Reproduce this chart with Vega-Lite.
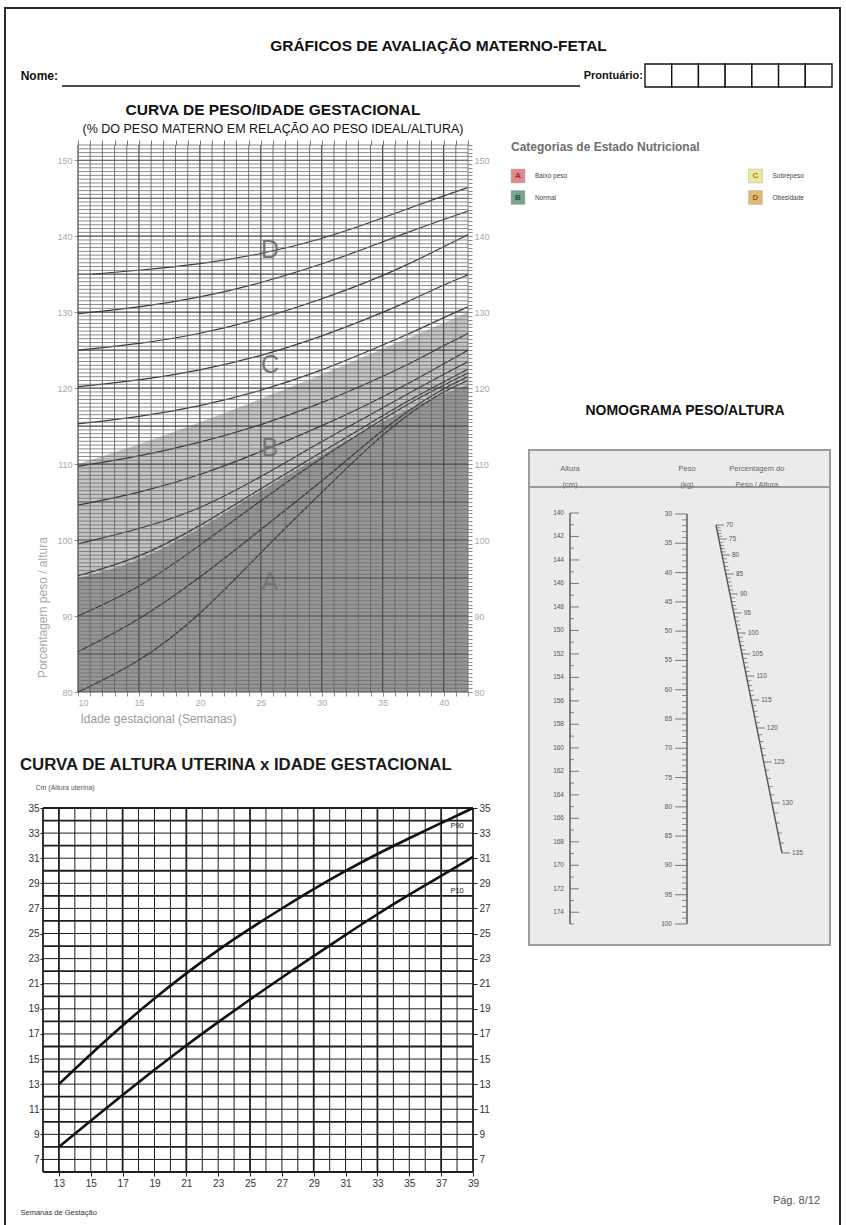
{
  "$schema": "https://vega.github.io/schema/vega-lite/v6.json",
  "width": 835,
  "height": 1220,
  "autosize": {"type": "none"},
  "padding": {"left": 5, "top": 8, "right": 6, "bottom": 0},
  "background": "white",
  "view": {"fill": "white", "stroke": "#2a2a2a", "strokeWidth": 2},
  "config": {"font": "Liberation Sans, Arial, sans-serif"},
  "title": {"text": "GRÁFICOS DE AVALIAÇÃO MATERNO-FETAL", "anchor": "middle", "frame": "group", "dx": 16, "offset": -46, "fontSize": 15.5, "fontWeight": "bold", "color": "#111"},
  "resolve": {
    "scale": {"x": "independent", "y": "independent", "color": "independent", "fill": "independent"},
    "axis": {"x": "independent", "y": "independent"}
  },
  "datasets": {
    "regioes": [
      {"cat": "A", "semana": 10, "inf": 80, "sup": 95}, {"cat": "A", "semana": 15, "inf": 80, "sup": 97.5}, {"cat": "A", "semana": 20, "inf": 80, "sup": 101.6}, {"cat": "A", "semana": 25, "inf": 80, "sup": 106.5}, {"cat": "A", "semana": 30, "inf": 80, "sup": 111.2}, {"cat": "A", "semana": 34, "inf": 80, "sup": 114.8}, {"cat": "A", "semana": 38, "inf": 80, "sup": 117.9}, {"cat": "A", "semana": 42, "inf": 80, "sup": 120.5},
      {"cat": "B", "semana": 10, "inf": 95, "sup": 110}, {"cat": "B", "semana": 15, "inf": 97.5, "sup": 112.6}, {"cat": "B", "semana": 20, "inf": 101.6, "sup": 115.5}, {"cat": "B", "semana": 25, "inf": 106.5, "sup": 118.6}, {"cat": "B", "semana": 30, "inf": 111.2, "sup": 121.8}, {"cat": "B", "semana": 34, "inf": 114.8, "sup": 124.5}, {"cat": "B", "semana": 38, "inf": 117.9, "sup": 127.2}, {"cat": "B", "semana": 42, "inf": 120.5, "sup": 130}
    ],
    "curvas": [
      {"curva": "c1", "semana": 11.2, "pct": 135}, {"curva": "c1", "semana": 15, "pct": 135.5}, {"curva": "c1", "semana": 20, "pct": 136.3}, {"curva": "c1", "semana": 25, "pct": 137.6}, {"curva": "c1", "semana": 30, "pct": 139.6}, {"curva": "c1", "semana": 34, "pct": 141.8}, {"curva": "c1", "semana": 37, "pct": 143.6}, {"curva": "c1", "semana": 40, "pct": 145.3}, {"curva": "c1", "semana": 42, "pct": 146.4},
      {"curva": "c2", "semana": 10, "pct": 129.8}, {"curva": "c2", "semana": 15, "pct": 130.6}, {"curva": "c2", "semana": 20, "pct": 131.9}, {"curva": "c2", "semana": 25, "pct": 133.8}, {"curva": "c2", "semana": 30, "pct": 136.3}, {"curva": "c2", "semana": 34, "pct": 138.6}, {"curva": "c2", "semana": 37, "pct": 140.5}, {"curva": "c2", "semana": 40, "pct": 142.2}, {"curva": "c2", "semana": 42, "pct": 143.3},
      {"curva": "c3", "semana": 10, "pct": 125}, {"curva": "c3", "semana": 15, "pct": 125.8}, {"curva": "c3", "semana": 20, "pct": 127.1}, {"curva": "c3", "semana": 25, "pct": 129.1}, {"curva": "c3", "semana": 30, "pct": 131.7}, {"curva": "c3", "semana": 34, "pct": 134.1}, {"curva": "c3", "semana": 37, "pct": 136.2}, {"curva": "c3", "semana": 40, "pct": 138.6}, {"curva": "c3", "semana": 42, "pct": 140.2},
      {"curva": "c4", "semana": 10, "pct": 120.2}, {"curva": "c4", "semana": 15, "pct": 121}, {"curva": "c4", "semana": 20, "pct": 122.3}, {"curva": "c4", "semana": 25, "pct": 124.2}, {"curva": "c4", "semana": 30, "pct": 126.8}, {"curva": "c4", "semana": 34, "pct": 129.3}, {"curva": "c4", "semana": 37, "pct": 131.3}, {"curva": "c4", "semana": 40, "pct": 133.6}, {"curva": "c4", "semana": 42, "pct": 134.9},
      {"curva": "c5", "semana": 10, "pct": 115.3}, {"curva": "c5", "semana": 15, "pct": 116.2}, {"curva": "c5", "semana": 20, "pct": 117.6}, {"curva": "c5", "semana": 25, "pct": 119.6}, {"curva": "c5", "semana": 30, "pct": 122.3}, {"curva": "c5", "semana": 34, "pct": 125}, {"curva": "c5", "semana": 37, "pct": 127}, {"curva": "c5", "semana": 40, "pct": 129.3}, {"curva": "c5", "semana": 42, "pct": 130.7},
      {"curva": "c6", "semana": 10, "pct": 109.7}, {"curva": "c6", "semana": 15, "pct": 111}, {"curva": "c6", "semana": 20, "pct": 112.8}, {"curva": "c6", "semana": 25, "pct": 115.1}, {"curva": "c6", "semana": 30, "pct": 118}, {"curva": "c6", "semana": 34, "pct": 120.8}, {"curva": "c6", "semana": 37, "pct": 123}, {"curva": "c6", "semana": 40, "pct": 125.6}, {"curva": "c6", "semana": 42, "pct": 127.2},
      {"curva": "c7", "semana": 10, "pct": 104.6}, {"curva": "c7", "semana": 15, "pct": 106.2}, {"curva": "c7", "semana": 20, "pct": 108.5}, {"curva": "c7", "semana": 25, "pct": 111.6}, {"curva": "c7", "semana": 30, "pct": 115}, {"curva": "c7", "semana": 34, "pct": 118}, {"curva": "c7", "semana": 37, "pct": 120.5}, {"curva": "c7", "semana": 40, "pct": 123.2}, {"curva": "c7", "semana": 42, "pct": 125},
      {"curva": "c8", "semana": 10, "pct": 99.5}, {"curva": "c8", "semana": 15, "pct": 101.4}, {"curva": "c8", "semana": 20, "pct": 104}, {"curva": "c8", "semana": 25, "pct": 108.3}, {"curva": "c8", "semana": 30, "pct": 113}, {"curva": "c8", "semana": 34, "pct": 116.5}, {"curva": "c8", "semana": 37, "pct": 119.2}, {"curva": "c8", "semana": 40, "pct": 121.8}, {"curva": "c8", "semana": 42, "pct": 123.5},
      {"curva": "c9", "semana": 10, "pct": 95.3}, {"curva": "c9", "semana": 15, "pct": 97.6}, {"curva": "c9", "semana": 20, "pct": 101.8}, {"curva": "c9", "semana": 25, "pct": 106.8}, {"curva": "c9", "semana": 30, "pct": 111.6}, {"curva": "c9", "semana": 34, "pct": 115.4}, {"curva": "c9", "semana": 37, "pct": 118.3}, {"curva": "c9", "semana": 40, "pct": 120.8}, {"curva": "c9", "semana": 42, "pct": 122.5},
      {"curva": "c10", "semana": 10, "pct": 90}, {"curva": "c10", "semana": 15, "pct": 93.6}, {"curva": "c10", "semana": 20, "pct": 99.3}, {"curva": "c10", "semana": 25, "pct": 105.2}, {"curva": "c10", "semana": 30, "pct": 110.9}, {"curva": "c10", "semana": 34, "pct": 114.9}, {"curva": "c10", "semana": 37, "pct": 117.9}, {"curva": "c10", "semana": 40, "pct": 120.4}, {"curva": "c10", "semana": 42, "pct": 122},
      {"curva": "c11", "semana": 10, "pct": 85.3}, {"curva": "c11", "semana": 15, "pct": 89.4}, {"curva": "c11", "semana": 20, "pct": 95}, {"curva": "c11", "semana": 25, "pct": 101.4}, {"curva": "c11", "semana": 30, "pct": 107.7}, {"curva": "c11", "semana": 34, "pct": 113.2}, {"curva": "c11", "semana": 37, "pct": 117}, {"curva": "c11", "semana": 40, "pct": 120}, {"curva": "c11", "semana": 42, "pct": 121.5},
      {"curva": "c12", "semana": 10, "pct": 80}, {"curva": "c12", "semana": 15, "pct": 83.8}, {"curva": "c12", "semana": 20, "pct": 90}, {"curva": "c12", "semana": 25, "pct": 98.4}, {"curva": "c12", "semana": 30, "pct": 106.3}, {"curva": "c12", "semana": 34, "pct": 112.5}, {"curva": "c12", "semana": 37, "pct": 116.5}, {"curva": "c12", "semana": 40, "pct": 119.6}, {"curva": "c12", "semana": 42, "pct": 121}
    ],
    "letras": [
      {"letra": "D", "semana": 25.75, "pct": 138.2}, {"letra": "C", "semana": 25.75, "pct": 123}, {"letra": "B", "semana": 25.75, "pct": 112.1}, {"letra": "A", "semana": 25.75, "pct": 94.5}
    ],
    "alturaUterina": [
      {"curva": "P90", "semana": 13, "cm": 13}, {"curva": "P90", "semana": 15, "cm": 15.4}, {"curva": "P90", "semana": 17, "cm": 17.7}, {"curva": "P90", "semana": 19, "cm": 19.85}, {"curva": "P90", "semana": 21, "cm": 21.85}, {"curva": "P90", "semana": 23, "cm": 23.7}, {"curva": "P90", "semana": 25, "cm": 25.4}, {"curva": "P90", "semana": 27, "cm": 27}, {"curva": "P90", "semana": 29, "cm": 28.55}, {"curva": "P90", "semana": 31, "cm": 30}, {"curva": "P90", "semana": 33, "cm": 31.35}, {"curva": "P90", "semana": 35, "cm": 32.6}, {"curva": "P90", "semana": 37, "cm": 33.8}, {"curva": "P90", "semana": 39, "cm": 35},
      {"curva": "P10", "semana": 13, "cm": 8}, {"curva": "P10", "semana": 15, "cm": 10.1}, {"curva": "P10", "semana": 17, "cm": 12.15}, {"curva": "P10", "semana": 19, "cm": 14.15}, {"curva": "P10", "semana": 21, "cm": 16.1}, {"curva": "P10", "semana": 23, "cm": 17.95}, {"curva": "P10", "semana": 25, "cm": 19.75}, {"curva": "P10", "semana": 27, "cm": 21.5}, {"curva": "P10", "semana": 29, "cm": 23.2}, {"curva": "P10", "semana": 31, "cm": 24.9}, {"curva": "P10", "semana": 33, "cm": 26.55}, {"curva": "P10", "semana": 35, "cm": 28.1}, {"curva": "P10", "semana": 37, "cm": 29.6}, {"curva": "P10", "semana": 39, "cm": 31.1}
    ],
    "rotulosP": [{"rotulo": "P90", "semana": 38, "cm": 33.6}, {"rotulo": "P10", "semana": 38, "cm": 28.4}],
    "categorias": [{"cod": "A", "nome": "Baixo peso"}, {"cod": "B", "nome": "Normal"}, {"cod": "C", "nome": "Sobrepeso"}, {"cod": "D", "nome": "Obesidade"}],
    "semanasGrade1": [10, 11, 12, 13, 14, 15, 16, 17, 18, 19, 20, 21, 22, 23, 24, 25, 26, 27, 28, 29, 30, 31, 32, 33, 34, 35, 36, 37, 38, 39, 40, 41, 42],
    "pctGrade1": [80, 80.5, 81, 81.5, 82, 82.5, 83, 83.5, 84, 84.5, 85, 85.5, 86, 86.5, 87, 87.5, 88, 88.5, 89, 89.5, 90, 90.5, 91, 91.5, 92, 92.5, 93, 93.5, 94, 94.5, 95, 95.5, 96, 96.5, 97, 97.5, 98, 98.5, 99, 99.5, 100, 100.5, 101, 101.5, 102, 102.5, 103, 103.5, 104, 104.5, 105, 105.5, 106, 106.5, 107, 107.5, 108, 108.5, 109, 109.5, 110, 110.5, 111, 111.5, 112, 112.5, 113, 113.5, 114, 114.5, 115, 115.5, 116, 116.5, 117, 117.5, 118, 118.5, 119, 119.5, 120, 120.5, 121, 121.5, 122, 122.5, 123, 123.5, 124, 124.5, 125, 125.5, 126, 126.5, 127, 127.5, 128, 128.5, 129, 129.5, 130, 130.5, 131, 131.5, 132, 132.5, 133, 133.5, 134, 134.5, 135, 135.5, 136, 136.5, 137, 137.5, 138, 138.5, 139, 139.5, 140, 140.5, 141, 141.5, 142, 142.5, 143, 143.5, 144, 144.5, 145, 145.5, 146, 146.5, 147, 147.5, 148, 148.5, 149, 149.5, 150, 150.5, 151, 151.5, 152],
    "semanasGrade2": [12, 13, 14, 15, 16, 17, 18, 19, 20, 21, 22, 23, 24, 25, 26, 27, 28, 29, 30, 31, 32, 33, 34, 35, 36, 37, 38, 39],
    "cmGrade2": [6, 7, 8, 9, 10, 11, 12, 13, 14, 15, 16, 17, 18, 19, 20, 21, 22, 23, 24, 25, 26, 27, 28, 29, 30, 31, 32, 33, 34, 35],
    "altura": [140, 141, 142, 143, 144, 145, 146, 147, 148, 149, 150, 151, 152, 153, 154, 155, 156, 157, 158, 159, 160, 161, 162, 163, 164, 165, 166, 167, 168, 169, 170, 171, 172, 173, 174, 175],
    "peso": [30, 31, 32, 33, 34, 35, 36, 37, 38, 39, 40, 41, 42, 43, 44, 45, 46, 47, 48, 49, 50, 51, 52, 53, 54, 55, 56, 57, 58, 59, 60, 61, 62, 63, 64, 65, 66, 67, 68, 69, 70, 71, 72, 73, 74, 75, 76, 77, 78, 79, 80, 81, 82, 83, 84, 85, 86, 87, 88, 89, 90, 91, 92, 93, 94, 95, 96, 97, 98, 99, 100],
    "pct": [70, 71, 72, 73, 74, 75, 76, 77, 78, 79, 80, 81, 82, 83, 84, 85, 86, 87, 88, 89, 90, 91, 92, 93, 94, 95, 96, 97, 98, 99, 100, 101, 102, 103, 104, 105, 106, 107, 108, 109, 110, 111, 112, 113, 114, 115, 116, 117, 118, 119, 120, 121, 122, 123, 124, 125, 126, 127, 128, 129, 130, 131, 132, 133, 134, 135],
    "digitos": [1, 2, 3, 4, 5, 6, 7]
  },
  "layer": [
    {
      "data": {"values": [{}]},
      "mark": {"type": "rule", "color": "#111", "strokeWidth": 1.5, "x2Offset": -65},
      "encoding": {
        "x": {"datum": "Nome", "type": "nominal", "scale": {"type": "point", "domain": ["Nome", "Prontuário"], "range": [57, 640], "padding": 0}, "axis": null},
        "x2": {"datum": "Prontuário"},
        "y": {"datum": "linha", "type": "nominal", "bandPosition": 0.96, "scale": {"type": "band", "domain": ["linha"], "range": [56, 79], "paddingInner": 0, "paddingOuter": 0}, "axis": null}
      }
    },
    {
      "data": {"values": [{}]},
      "mark": {"type": "text", "align": "right", "baseline": "middle", "dx": -4, "fontSize": 12, "fontWeight": "bold", "color": "#111"},
      "encoding": {
        "x": {"datum": "Nome", "type": "nominal", "scale": {"type": "point", "domain": ["Nome", "Prontuário"], "range": [57, 640], "padding": 0}, "axis": null},
        "y": {"datum": "linha", "type": "nominal", "scale": {"type": "band", "domain": ["linha"], "range": [56, 79], "paddingInner": 0, "paddingOuter": 0}, "axis": null},
        "text": {"value": "Nome:"}
      }
    },
    {
      "data": {"values": [{}]},
      "mark": {"type": "text", "align": "right", "baseline": "middle", "dx": -2, "fontSize": 11, "fontWeight": "bold", "color": "#111"},
      "encoding": {
        "x": {"datum": "Prontuário", "type": "nominal", "scale": {"type": "point", "domain": ["Nome", "Prontuário"], "range": [57, 640], "padding": 0}, "axis": null},
        "y": {"datum": "linha", "type": "nominal", "scale": {"type": "band", "domain": ["linha"], "range": [56, 79], "paddingInner": 0, "paddingOuter": 0}, "axis": null},
        "text": {"value": "Prontuário:"}
      }
    },
    {
      "data": {"name": "digitos"},
      "mark": {"type": "rect", "fill": "white", "stroke": "#111", "strokeWidth": 1.4},
      "encoding": {
        "x": {"field": "data", "type": "ordinal", "scale": {"type": "band", "domain": [1, 2, 3, 4, 5, 6, 7], "range": [640, 827], "paddingInner": 0, "paddingOuter": 0}, "axis": null},
        "y": {"datum": "linha", "type": "nominal", "scale": {"type": "band", "domain": ["linha"], "range": [56, 79], "paddingInner": 0, "paddingOuter": 0}, "axis": null}
      }
    },
    {
      "data": {"values": [{}]},
      "mark": {"type": "text", "align": "center", "baseline": "alphabetic", "fontSize": 15.5, "fontWeight": "bold", "color": "#111"},
      "encoding": {
        "x": {"datum": 26, "type": "quantitative", "scale": {"domain": [10, 42], "range": [73, 463], "nice": false, "zero": false}, "axis": null},
        "y": {"datum": 155.95, "type": "quantitative", "scale": {"domain": [80, 152], "range": [684, 137], "nice": false, "zero": false}, "axis": null},
        "text": {"value": "CURVA DE PESO/IDADE GESTACIONAL"}
      }
    },
    {
      "data": {"values": [{}]},
      "mark": {"type": "text", "align": "center", "baseline": "alphabetic", "fontSize": 12.5, "color": "#111"},
      "encoding": {
        "x": {"datum": 26, "type": "quantitative", "scale": {"domain": [10, 42], "range": [73, 463], "nice": false, "zero": false}, "axis": null},
        "y": {"datum": 153.58, "type": "quantitative", "scale": {"domain": [80, 152], "range": [684, 137], "nice": false, "zero": false}, "axis": null},
        "text": {"value": "(% DO PESO MATERNO EM RELAÇÃO AO PESO IDEAL/ALTURA)"}
      }
    },
    {
      "data": {"name": "regioes"},
      "mark": {"type": "area", "interpolate": "monotone"},
      "encoding": {
        "x": {"field": "semana", "type": "quantitative", "scale": {"domain": [10, 42], "range": [73, 463], "nice": false, "zero": false},
          "axis": {"orient": "bottom", "offset": -536, "values": [10, 11, 12, 13, 14, 15, 16, 17, 18, 19, 20, 21, 22, 23, 24, 25, 26, 27, 28, 29, 30, 31, 32, 33, 34, 35, 36, 37, 38, 39, 40, 41, 42], "domain": false, "grid": false, "tickSize": 4, "tickColor": "#888", "labelExpr": "datum.value % 5 === 0 ? '' + datum.value : ''", "labelAlign": {"condition": {"test": "datum.value === 10", "value": "left"}, "value": "center"}, "labelFlush": false, "labelOverlap": false, "labelColor": "#a8a8a8", "labelFontSize": 9, "labelPadding": 2, "title": "Idade gestacional (Semanas)", "titleX": 75, "titleY": 26, "titleAlign": "left", "titleBaseline": "middle", "titleFontSize": 12, "titleFontWeight": "normal", "titleColor": "#9a9a9a"}},
        "y": {"field": "sup", "type": "quantitative", "scale": {"domain": [80, 152], "range": [684, 137], "nice": false, "zero": false},
          "axis": {"orient": "left", "offset": -73, "values": [80, 90, 100, 110, 120, 130, 140, 150], "domain": false, "grid": false, "tickSize": 4, "tickColor": "#999", "labelColor": "#a8a8a8", "labelFontSize": 9, "labelPadding": 2, "labelOverlap": false, "title": "Porcentagem peso / altura", "titleX": -36, "titleY": 599, "titleAngle": -90, "titleAlign": "center", "titleBaseline": "middle", "titleFontSize": 12, "titleFontWeight": "normal", "titleColor": "#a8a8a8"}},
        "y2": {"field": "inf"},
        "fill": {"field": "cat", "type": "nominal", "scale": {"domain": ["A", "B"], "range": ["#969696", "#c4c4c4"]}, "legend": null}
      }
    },
    {
      "data": {"name": "curvas"},
      "mark": {"type": "line", "interpolate": "basis", "color": "#383838", "strokeWidth": 1.2},
      "encoding": {
        "x": {"field": "semana", "type": "quantitative", "scale": {"domain": [10, 42], "range": [73, 463], "nice": false, "zero": false},
          "axis": {"orient": "top", "offset": -137, "values": [10, 11, 12, 13, 14, 15, 16, 17, 18, 19, 20, 21, 22, 23, 24, 25, 26, 27, 28, 29, 30, 31, 32, 33, 34, 35, 36, 37, 38, 39, 40, 41, 42], "domain": false, "grid": false, "labels": false, "tickSize": 5, "tickColor": "#777", "title": null}},
        "y": {"field": "pct", "type": "quantitative", "scale": {"domain": [80, 152], "range": [684, 137], "nice": false, "zero": false},
          "axis": {"orient": "right", "offset": -372, "tickCount": 144, "domain": false, "grid": false, "tickSize": 4, "tickColor": "#888", "labelExpr": "datum.value % 10 === 0 ? '' + datum.value : ''", "labelOverlap": false, "labelColor": "#a8a8a8", "labelFontSize": 9, "labelPadding": 2, "title": null}},
        "detail": {"field": "curva", "type": "nominal"}
      }
    },
    {
      "data": {"name": "letras"},
      "mark": {"type": "text", "fontSize": 25, "color": "#777777", "baseline": "middle"},
      "encoding": {
        "x": {"field": "semana", "type": "quantitative", "scale": {"domain": [10, 42], "range": [73, 463], "nice": false, "zero": false}, "axis": null},
        "y": {"field": "pct", "type": "quantitative", "scale": {"domain": [80, 152], "range": [684, 137], "nice": false, "zero": false}, "axis": null},
        "text": {"field": "letra"}
      }
    },
    {
      "data": {"name": "semanasGrade1"},
      "mark": {"type": "rule"},
      "encoding": {
        "x": {"field": "data", "type": "quantitative", "scale": {"domain": [10, 42], "range": [73, 463], "nice": false, "zero": false}, "axis": null},
        "y": {"datum": 80, "type": "quantitative", "scale": {"domain": [80, 152], "range": [684, 137], "nice": false, "zero": false}, "axis": null},
        "y2": {"datum": 152},
        "color": {"condition": {"test": "datum.data % 5 === 0", "value": "#444444"}, "value": "#666666"},
        "strokeWidth": {"condition": {"test": "datum.data % 5 === 0", "value": 1.2}, "value": 0.9}
      }
    },
    {
      "data": {"name": "pctGrade1"},
      "mark": {"type": "rule"},
      "encoding": {
        "y": {"field": "data", "type": "quantitative", "scale": {"domain": [80, 152], "range": [684, 137], "nice": false, "zero": false}, "axis": null},
        "x": {"datum": 10, "type": "quantitative", "scale": {"domain": [10, 42], "range": [73, 463], "nice": false, "zero": false}, "axis": null},
        "x2": {"datum": 42},
        "color": {"condition": {"test": "datum.data % 5 === 0", "value": "#444444"}, "value": "#6e6e6e"},
        "strokeWidth": {"condition": {"test": "datum.data % 5 === 0", "value": 1.1}, "value": 0.8}
      }
    },
    {
      "data": {"values": [{}]},
      "mark": {"type": "text", "align": "left", "baseline": "alphabetic", "dx": -7, "dy": -3.5, "fontSize": 12, "fontWeight": "bold", "color": "#6e6e6e"},
      "encoding": {
        "x": {"datum": "esq", "type": "nominal", "scale": {"type": "point", "domain": ["esq", "dir"], "range": [513, 750.5], "padding": 0}, "axis": null},
        "y": {"datum": "titulo", "type": "nominal", "scale": {"type": "point", "domain": ["titulo", "A", "B"], "range": [146.5, 189.5], "padding": 0}, "axis": null},
        "text": {"value": "Categorias de Estado Nutricional"}
      }
    },
    {
      "data": {"name": "categorias"},
      "transform": [{"filter": "datum.cod === 'A' || datum.cod === 'B'"}],
      "mark": {"type": "square", "filled": true, "size": 190, "stroke": "#666", "strokeWidth": 0.6, "strokeOpacity": 0.6},
      "encoding": {
        "x": {"datum": "esq", "type": "nominal", "scale": {"type": "point", "domain": ["esq", "dir"], "range": [513, 750.5], "padding": 0}, "axis": null},
        "y": {"field": "cod", "type": "nominal", "scale": {"type": "point", "domain": ["titulo", "A", "B"], "range": [146.5, 189.5], "padding": 0}, "axis": null},
        "fill": {"field": "cod", "type": "nominal", "scale": {"domain": ["A", "B", "C", "D"], "range": ["#d65462", "#3f7d5e", "#e4e070", "#d89a3a"]}, "legend": null}
      }
    },
    {
      "data": {"name": "categorias"},
      "transform": [{"filter": "datum.cod === 'C' || datum.cod === 'D'"}],
      "mark": {"type": "square", "filled": true, "size": 190, "stroke": "#666", "strokeWidth": 0.6, "strokeOpacity": 0.6},
      "encoding": {
        "x": {"datum": "dir", "type": "nominal", "scale": {"type": "point", "domain": ["esq", "dir"], "range": [513, 750.5], "padding": 0}, "axis": null},
        "y": {"field": "cod", "type": "nominal", "scale": {"type": "point", "domain": ["C", "D"], "range": [168, 189.5], "padding": 0}, "axis": null},
        "fill": {"field": "cod", "type": "nominal", "scale": {"domain": ["A", "B", "C", "D"], "range": ["#d65462", "#3f7d5e", "#e4e070", "#d89a3a"]}, "legend": null}
      }
    },
    {
      "data": {"name": "categorias"},
      "transform": [{"filter": "datum.cod === 'A' || datum.cod === 'B'"}],
      "mark": {"type": "text", "fontSize": 8, "fontWeight": "bold", "baseline": "middle"},
      "encoding": {
        "x": {"datum": "esq", "type": "nominal", "scale": {"type": "point", "domain": ["esq", "dir"], "range": [513, 750.5], "padding": 0}, "axis": null},
        "y": {"field": "cod", "type": "nominal", "scale": {"type": "point", "domain": ["titulo", "A", "B"], "range": [146.5, 189.5], "padding": 0}, "axis": null},
        "text": {"field": "cod"},
        "color": {"field": "cod", "type": "nominal", "scale": {"domain": ["A", "B", "C", "D"], "range": ["#8e2a36", "#1f4d36", "#8f8a2a", "#8a5a14"]}, "legend": null}
      }
    },
    {
      "data": {"name": "categorias"},
      "transform": [{"filter": "datum.cod === 'C' || datum.cod === 'D'"}],
      "mark": {"type": "text", "fontSize": 8, "fontWeight": "bold", "baseline": "middle"},
      "encoding": {
        "x": {"datum": "dir", "type": "nominal", "scale": {"type": "point", "domain": ["esq", "dir"], "range": [513, 750.5], "padding": 0}, "axis": null},
        "y": {"field": "cod", "type": "nominal", "scale": {"type": "point", "domain": ["C", "D"], "range": [168, 189.5], "padding": 0}, "axis": null},
        "text": {"field": "cod"},
        "color": {"field": "cod", "type": "nominal", "scale": {"domain": ["A", "B", "C", "D"], "range": ["#8e2a36", "#1f4d36", "#8f8a2a", "#8a5a14"]}, "legend": null}
      }
    },
    {
      "data": {"name": "categorias"},
      "transform": [{"filter": "datum.cod === 'A' || datum.cod === 'B'"}],
      "mark": {"type": "text", "align": "left", "dx": 17, "fontSize": 6.5, "color": "#444", "baseline": "middle"},
      "encoding": {
        "x": {"datum": "esq", "type": "nominal", "scale": {"type": "point", "domain": ["esq", "dir"], "range": [513, 750.5], "padding": 0}, "axis": null},
        "y": {"field": "cod", "type": "nominal", "scale": {"type": "point", "domain": ["titulo", "A", "B"], "range": [146.5, 189.5], "padding": 0}, "axis": null},
        "text": {"field": "nome"}
      }
    },
    {
      "data": {"name": "categorias"},
      "transform": [{"filter": "datum.cod === 'C' || datum.cod === 'D'"}],
      "mark": {"type": "text", "align": "left", "dx": 17, "fontSize": 6.5, "color": "#444", "baseline": "middle"},
      "encoding": {
        "x": {"datum": "dir", "type": "nominal", "scale": {"type": "point", "domain": ["esq", "dir"], "range": [513, 750.5], "padding": 0}, "axis": null},
        "y": {"field": "cod", "type": "nominal", "scale": {"type": "point", "domain": ["C", "D"], "range": [168, 189.5], "padding": 0}, "axis": null},
        "text": {"field": "nome"}
      }
    },
    {
      "data": {"values": [{}]},
      "mark": {"type": "text", "align": "center", "baseline": "alphabetic", "dx": -2, "fontSize": 14, "fontWeight": "bold", "color": "#111"},
      "encoding": {
        "x": {"datum": "Peso", "type": "nominal", "scale": {"type": "point", "domain": ["Altura", "Peso"], "range": [565, 682], "padding": 0}, "axis": null},
        "y": {"datum": 131.655, "type": "quantitative", "scale": {"domain": [140, 175], "range": [505, 916], "nice": false, "zero": false}, "axis": null},
        "text": {"value": "NOMOGRAMA PESO/ALTURA"}
      }
    },
    {
      "data": {"values": [{}]},
      "mark": {"type": "rect", "fill": "#ebebeb", "stroke": "#9c9c9c", "strokeWidth": 2},
      "encoding": {
        "x": {"datum": "esquerda", "type": "nominal", "scale": {"type": "point", "domain": ["esquerda", "direita"], "range": [524, 825], "padding": 0}, "axis": null},
        "x2": {"datum": "direita"},
        "y": {"datum": 134.635, "type": "quantitative", "scale": {"domain": [140, 175], "range": [505, 916], "nice": false, "zero": false}, "axis": null},
        "y2": {"datum": 176.788}
      }
    },
    {
      "data": {"values": [{}]},
      "mark": {"type": "rule", "color": "#9a9a9a", "strokeWidth": 2},
      "encoding": {
        "x": {"datum": "esquerda", "type": "nominal", "scale": {"type": "point", "domain": ["esquerda", "direita"], "range": [524, 825], "padding": 0}, "axis": null},
        "x2": {"datum": "direita"},
        "y": {"datum": 137.786, "type": "quantitative", "scale": {"domain": [140, 175], "range": [505, 916], "nice": false, "zero": false}, "axis": null}
      }
    },
    {
      "data": {"values": [{"coluna": "Altura", "rotulo": "Altura\n(cm)"}, {"coluna": "Peso", "rotulo": "Peso\n(kg)"}]},
      "mark": {"type": "text", "lineBreak": "\n", "lineHeight": 16, "fontSize": 7.5, "color": "#666", "baseline": "middle"},
      "encoding": {
        "x": {"field": "coluna", "type": "nominal", "scale": {"type": "point", "domain": ["Altura", "Peso"], "range": [565, 682], "padding": 0}, "axis": null},
        "y": {"datum": 136.25, "type": "quantitative", "scale": {"domain": [140, 175], "range": [505, 916], "nice": false, "zero": false}, "axis": null},
        "text": {"field": "rotulo"}
      }
    },
    {
      "data": {"values": [{"rotulo": "Percentagem do\nPeso / Altura"}]},
      "mark": {"type": "text", "lineBreak": "\n", "lineHeight": 16, "fontSize": 7.5, "color": "#666", "baseline": "middle"},
      "encoding": {
        "x": {"datum": 120, "type": "quantitative", "scale": {"domain": [70, 75, 80, 85, 90, 95, 100, 105, 110, 115, 120, 125, 130, 135], "range": [711, 713.8, 717, 720.9, 724.9, 728.7, 732.7, 737, 741.4, 746.2, 751.8, 758.7, 766.9, 777], "nice": false, "zero": false}, "axis": null},
        "y": {"datum": 136.25, "type": "quantitative", "scale": {"domain": [140, 175], "range": [505, 916], "nice": false, "zero": false}, "axis": null},
        "text": {"field": "rotulo"}
      }
    },
    {
      "data": {"values": [{}]},
      "mark": {"type": "rule", "color": "#555", "strokeWidth": 1.4},
      "encoding": {
        "x": {"datum": "Altura", "type": "nominal", "scale": {"type": "point", "domain": ["Altura", "Peso"], "range": [565, 682], "padding": 0}, "axis": null},
        "y": {"datum": 140, "type": "quantitative", "scale": {"domain": [140, 175], "range": [505, 916], "nice": false, "zero": false}, "axis": null},
        "y2": {"datum": 175}
      }
    },
    {
      "data": {"name": "altura"},
      "transform": [{"filter": "datum.data % 2 === 0"}],
      "mark": {"type": "tick", "orient": "horizontal", "size": 9, "thickness": 1.1, "xOffset": 4.5, "color": "#555"},
      "encoding": {
        "x": {"datum": "Altura", "type": "nominal", "scale": {"type": "point", "domain": ["Altura", "Peso"], "range": [565, 682], "padding": 0}, "axis": null},
        "y": {"field": "data", "type": "quantitative", "scale": {"domain": [140, 175], "range": [505, 916], "nice": false, "zero": false}, "axis": null}
      }
    },
    {
      "data": {"name": "altura"},
      "transform": [{"filter": "datum.data % 2 === 1"}],
      "mark": {"type": "tick", "orient": "horizontal", "size": 4, "thickness": 1, "xOffset": 2, "color": "#555"},
      "encoding": {
        "x": {"datum": "Altura", "type": "nominal", "scale": {"type": "point", "domain": ["Altura", "Peso"], "range": [565, 682], "padding": 0}, "axis": null},
        "y": {"field": "data", "type": "quantitative", "scale": {"domain": [140, 175], "range": [505, 916], "nice": false, "zero": false}, "axis": null}
      }
    },
    {
      "data": {"name": "altura"},
      "transform": [{"filter": "datum.data % 2 === 0 && datum.data < 175"}],
      "mark": {"type": "text", "align": "right", "dx": -6, "fontSize": 6.5, "color": "#555", "baseline": "middle"},
      "encoding": {
        "x": {"datum": "Altura", "type": "nominal", "scale": {"type": "point", "domain": ["Altura", "Peso"], "range": [565, 682], "padding": 0}, "axis": null},
        "y": {"field": "data", "type": "quantitative", "scale": {"domain": [140, 175], "range": [505, 916], "nice": false, "zero": false}, "axis": null},
        "text": {"field": "data"}
      }
    },
    {
      "data": {"values": [{}]},
      "mark": {"type": "rule", "color": "#555", "strokeWidth": 1.4},
      "encoding": {
        "x": {"datum": "Peso", "type": "nominal", "scale": {"type": "point", "domain": ["Altura", "Peso"], "range": [565, 682], "padding": 0}, "axis": null},
        "y": {"datum": 30, "type": "quantitative", "scale": {"domain": [30, 100], "range": [506, 916], "nice": false, "zero": false}, "axis": null},
        "y2": {"datum": 100}
      }
    },
    {
      "data": {"name": "peso"},
      "transform": [{"filter": "datum.data % 5 === 0"}],
      "mark": {"type": "tick", "orient": "horizontal", "size": 12, "thickness": 1.1, "xOffset": -6, "color": "#555"},
      "encoding": {
        "x": {"datum": "Peso", "type": "nominal", "scale": {"type": "point", "domain": ["Altura", "Peso"], "range": [565, 682], "padding": 0}, "axis": null},
        "y": {"field": "data", "type": "quantitative", "scale": {"domain": [30, 100], "range": [506, 916], "nice": false, "zero": false}, "axis": null}
      }
    },
    {
      "data": {"name": "peso"},
      "transform": [{"filter": "datum.data % 5 !== 0"}],
      "mark": {"type": "tick", "orient": "horizontal", "size": 5, "thickness": 0.9, "xOffset": -2.5, "color": "#555"},
      "encoding": {
        "x": {"datum": "Peso", "type": "nominal", "scale": {"type": "point", "domain": ["Altura", "Peso"], "range": [565, 682], "padding": 0}, "axis": null},
        "y": {"field": "data", "type": "quantitative", "scale": {"domain": [30, 100], "range": [506, 916], "nice": false, "zero": false}, "axis": null}
      }
    },
    {
      "data": {"name": "peso"},
      "transform": [{"filter": "datum.data % 5 === 0"}],
      "mark": {"type": "text", "align": "right", "dx": -15, "fontSize": 6.5, "color": "#555", "baseline": "middle"},
      "encoding": {
        "x": {"datum": "Peso", "type": "nominal", "scale": {"type": "point", "domain": ["Altura", "Peso"], "range": [565, 682], "padding": 0}, "axis": null},
        "y": {"field": "data", "type": "quantitative", "scale": {"domain": [30, 100], "range": [506, 916], "nice": false, "zero": false}, "axis": null},
        "text": {"field": "data"}
      }
    },
    {
      "data": {"values": [70, 135]},
      "mark": {"type": "line", "color": "#555", "strokeWidth": 1.4},
      "encoding": {
        "x": {"field": "data", "type": "quantitative", "scale": {"domain": [70, 75, 80, 85, 90, 95, 100, 105, 110, 115, 120, 125, 130, 135], "range": [711, 713.8, 717, 720.9, 724.9, 728.7, 732.7, 737, 741.4, 746.2, 751.8, 758.7, 766.9, 777], "nice": false, "zero": false}, "axis": null},
        "y": {"field": "data", "type": "quantitative", "scale": {"domain": [70, 75, 80, 85, 90, 95, 100, 105, 110, 115, 120, 125, 130, 135], "range": [517, 531, 547, 566, 586, 605, 625, 646, 668, 692, 720, 754, 795, 845], "nice": false, "zero": false}, "axis": null}
      }
    },
    {
      "data": {"name": "pct"},
      "transform": [{"filter": "datum.data % 5 === 0"}],
      "mark": {"type": "tick", "orient": "horizontal", "size": 8, "thickness": 1.1, "xOffset": 4, "color": "#555"},
      "encoding": {
        "x": {"field": "data", "type": "quantitative", "scale": {"domain": [70, 75, 80, 85, 90, 95, 100, 105, 110, 115, 120, 125, 130, 135], "range": [711, 713.8, 717, 720.9, 724.9, 728.7, 732.7, 737, 741.4, 746.2, 751.8, 758.7, 766.9, 777], "nice": false, "zero": false}, "axis": null},
        "y": {"field": "data", "type": "quantitative", "scale": {"domain": [70, 75, 80, 85, 90, 95, 100, 105, 110, 115, 120, 125, 130, 135], "range": [517, 531, 547, 566, 586, 605, 625, 646, 668, 692, 720, 754, 795, 845], "nice": false, "zero": false}, "axis": null}
      }
    },
    {
      "data": {"name": "pct"},
      "transform": [{"filter": "datum.data % 5 !== 0"}],
      "mark": {"type": "tick", "orient": "horizontal", "size": 4, "thickness": 0.9, "xOffset": 2, "color": "#555"},
      "encoding": {
        "x": {"field": "data", "type": "quantitative", "scale": {"domain": [70, 75, 80, 85, 90, 95, 100, 105, 110, 115, 120, 125, 130, 135], "range": [711, 713.8, 717, 720.9, 724.9, 728.7, 732.7, 737, 741.4, 746.2, 751.8, 758.7, 766.9, 777], "nice": false, "zero": false}, "axis": null},
        "y": {"field": "data", "type": "quantitative", "scale": {"domain": [70, 75, 80, 85, 90, 95, 100, 105, 110, 115, 120, 125, 130, 135], "range": [517, 531, 547, 566, 586, 605, 625, 646, 668, 692, 720, 754, 795, 845], "nice": false, "zero": false}, "axis": null}
      }
    },
    {
      "data": {"name": "pct"},
      "transform": [{"filter": "datum.data % 5 === 0"}],
      "mark": {"type": "text", "align": "left", "dx": 10, "fontSize": 6.5, "color": "#555", "baseline": "middle"},
      "encoding": {
        "x": {"field": "data", "type": "quantitative", "scale": {"domain": [70, 75, 80, 85, 90, 95, 100, 105, 110, 115, 120, 125, 130, 135], "range": [711, 713.8, 717, 720.9, 724.9, 728.7, 732.7, 737, 741.4, 746.2, 751.8, 758.7, 766.9, 777], "nice": false, "zero": false}, "axis": null},
        "y": {"field": "data", "type": "quantitative", "scale": {"domain": [70, 75, 80, 85, 90, 95, 100, 105, 110, 115, 120, 125, 130, 135], "range": [517, 531, 547, 566, 586, 605, 625, 646, 668, 692, 720, 754, 795, 845], "nice": false, "zero": false}, "axis": null},
        "text": {"field": "data"}
      }
    },
    {
      "data": {"values": [{}]},
      "mark": {"type": "text", "align": "right", "baseline": "alphabetic", "dx": -10, "fontSize": 11, "color": "#555"},
      "encoding": {
        "x": {"datum": "direita", "type": "nominal", "scale": {"type": "point", "domain": ["esquerda", "direita"], "range": [524, 825], "padding": 0}, "axis": null},
        "y": {"datum": 198.84, "type": "quantitative", "scale": {"domain": [140, 175], "range": [505, 916], "nice": false, "zero": false}, "axis": null},
        "text": {"value": "Pág. 8/12"}
      }
    },
    {
      "data": {"values": [{}]},
      "mark": {"type": "text", "align": "left", "baseline": "alphabetic", "fontSize": 16.8, "fontWeight": "bold", "color": "#1a1a1a"},
      "encoding": {
        "x": {"datum": 10.556, "type": "quantitative", "scale": {"domain": [12, 39], "range": [38, 468], "nice": false, "zero": false}, "axis": null},
        "y": {"datum": 38.03, "type": "quantitative", "scale": {"domain": [6, 35], "range": [1164, 800], "nice": false, "zero": false}, "axis": null},
        "text": {"value": "CURVA DE ALTURA UTERINA x  IDADE GESTACIONAL"}
      }
    },
    {
      "data": {"name": "semanasGrade2"},
      "mark": {"type": "rule", "color": "#1e1e1e"},
      "encoding": {
        "x": {"field": "data", "type": "quantitative", "scale": {"domain": [12, 39], "range": [38, 468], "nice": false, "zero": false}, "axis": null},
        "y": {"datum": 6, "type": "quantitative", "scale": {"domain": [6, 35], "range": [1164, 800], "nice": false, "zero": false}, "axis": null},
        "y2": {"datum": 35},
        "strokeWidth": {"condition": {"test": "(datum.data - 13) % 4 === 0 || datum.data === 12 || datum.data === 39", "value": 1.8}, "value": 1}
      }
    },
    {
      "data": {"name": "cmGrade2"},
      "mark": {"type": "rule", "color": "#1e1e1e"},
      "encoding": {
        "y": {"field": "data", "type": "quantitative", "scale": {"domain": [6, 35], "range": [1164, 800], "nice": false, "zero": false}, "axis": null},
        "x": {"datum": 12, "type": "quantitative", "scale": {"domain": [12, 39], "range": [38, 468], "nice": false, "zero": false}, "axis": null},
        "x2": {"datum": 39},
        "strokeWidth": {"condition": {"test": "datum.data % 2 === 0 || datum.data === 35", "value": 1.8}, "value": 1}
      }
    },
    {
      "data": {"name": "alturaUterina"},
      "mark": {"type": "line", "interpolate": "basis", "color": "#111", "strokeWidth": 2.6},
      "encoding": {
        "x": {"field": "semana", "type": "quantitative", "scale": {"domain": [12, 39], "range": [38, 468], "nice": false, "zero": false},
          "axis": {"orient": "bottom", "offset": -56, "values": [13, 15, 17, 19, 21, 23, 25, 27, 29, 31, 33, 35, 37, 39], "domain": false, "grid": false, "tickSize": 4, "tickColor": "#222", "labelColor": "#333", "labelFontSize": 10, "labelPadding": 2, "labelFlush": false, "labelOverlap": false, "title": "Semanas de Gestação", "titleX": 15, "titleY": 40, "titleAlign": "left", "titleBaseline": "middle", "titleFontSize": 7.5, "titleFontWeight": "normal", "titleColor": "#333"}},
        "y": {"field": "cm", "type": "quantitative", "scale": {"domain": [6, 35], "range": [1164, 800], "nice": false, "zero": false},
          "axis": {"orient": "left", "offset": -38, "values": [7, 9, 11, 13, 15, 17, 19, 21, 23, 25, 27, 29, 31, 33, 35], "domain": false, "grid": false, "tickSize": 3, "tickColor": "#222", "labelColor": "#333", "labelFontSize": 10, "labelPadding": 1, "labelOverlap": false, "title": "Cm (Altura uterina)", "titleAngle": 0, "titleX": -8, "titleY": 779, "titleAlign": "left", "titleBaseline": "middle", "titleFontSize": 7, "titleFontWeight": "normal", "titleColor": "#555"}},
        "detail": {"field": "curva", "type": "nominal"}
      }
    },
    {
      "data": {"name": "rotulosP"},
      "mark": {"type": "text", "fontSize": 7.5, "color": "#222", "baseline": "middle"},
      "encoding": {
        "x": {"field": "semana", "type": "quantitative", "scale": {"domain": [12, 39], "range": [38, 468], "nice": false, "zero": false}, "axis": null},
        "y": {"field": "cm", "type": "quantitative", "scale": {"domain": [6, 35], "range": [1164, 800], "nice": false, "zero": false},
          "axis": {"orient": "right", "offset": -367, "values": [7, 9, 11, 13, 15, 17, 19, 21, 23, 25, 27, 29, 31, 33, 35], "domain": false, "grid": false, "tickSize": 4, "tickColor": "#222", "labelColor": "#333", "labelFontSize": 10, "labelPadding": 2, "labelOverlap": false, "title": null}},
        "text": {"field": "rotulo"}
      }
    }
  ]
}
